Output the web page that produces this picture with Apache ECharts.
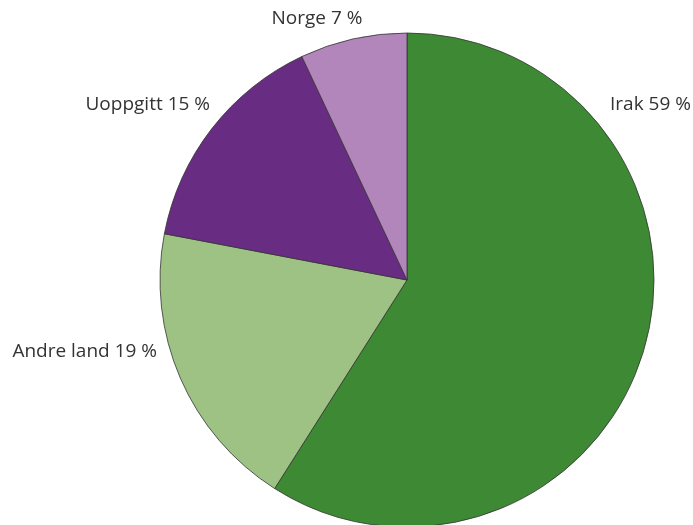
<!DOCTYPE html>
<html><head><meta charset="utf-8">
<script src="https://cdn.jsdelivr.net/npm/echarts@6/dist/echarts.min.js"></script>
<style>html,body{margin:0;padding:0;background:#fff}#c{width:693px;height:525px}</style>
</head><body><div id="c"></div>
<script>
const categories = ['Irak', 'Andre land', 'Uoppgitt', 'Norge'];
const values = [59, 19, 15, 7];
const colors = ['#3e8934', '#9dc283', '#692c83', '#b286ba'];
// label anchor placement (style only)
const labelPos = [
  {x: 610, y: 105, align: 'left'},
  {x: 157, y: 352, align: 'right'},
  {x: 210, y: 105, align: 'right'},
  {x: 317, y: 19, align: 'center'}
];
const chart = echarts.init(document.getElementById('c'));
chart.setOption({
  animation: false,
  series: [{
    type: 'pie',
    center: [407, 280],
    radius: 247,
    startAngle: 90,
    clockwise: true,
    avoidLabelOverlap: false,
    data: categories.map((n, i) => ({name: n, value: values[i], itemStyle: {color: colors[i]}})),
    itemStyle: {borderColor: '#333', borderWidth: 0.8},
    label: {
      show: true, position: 'outside', overflow: 'none',
      formatter: p => p.name + ' ' + p.value + ' %',
      fontFamily: 'Open Sans', fontSize: 19, color: '#333'
    },
    labelLine: {show: false},
    labelLayout: p => {
      const lp = labelPos[p.dataIndex];
      return {x: lp.x, y: lp.y, align: lp.align, verticalAlign: 'middle'};
    },
    emphasis: {disabled: true}
  }]
});
</script></body></html>
